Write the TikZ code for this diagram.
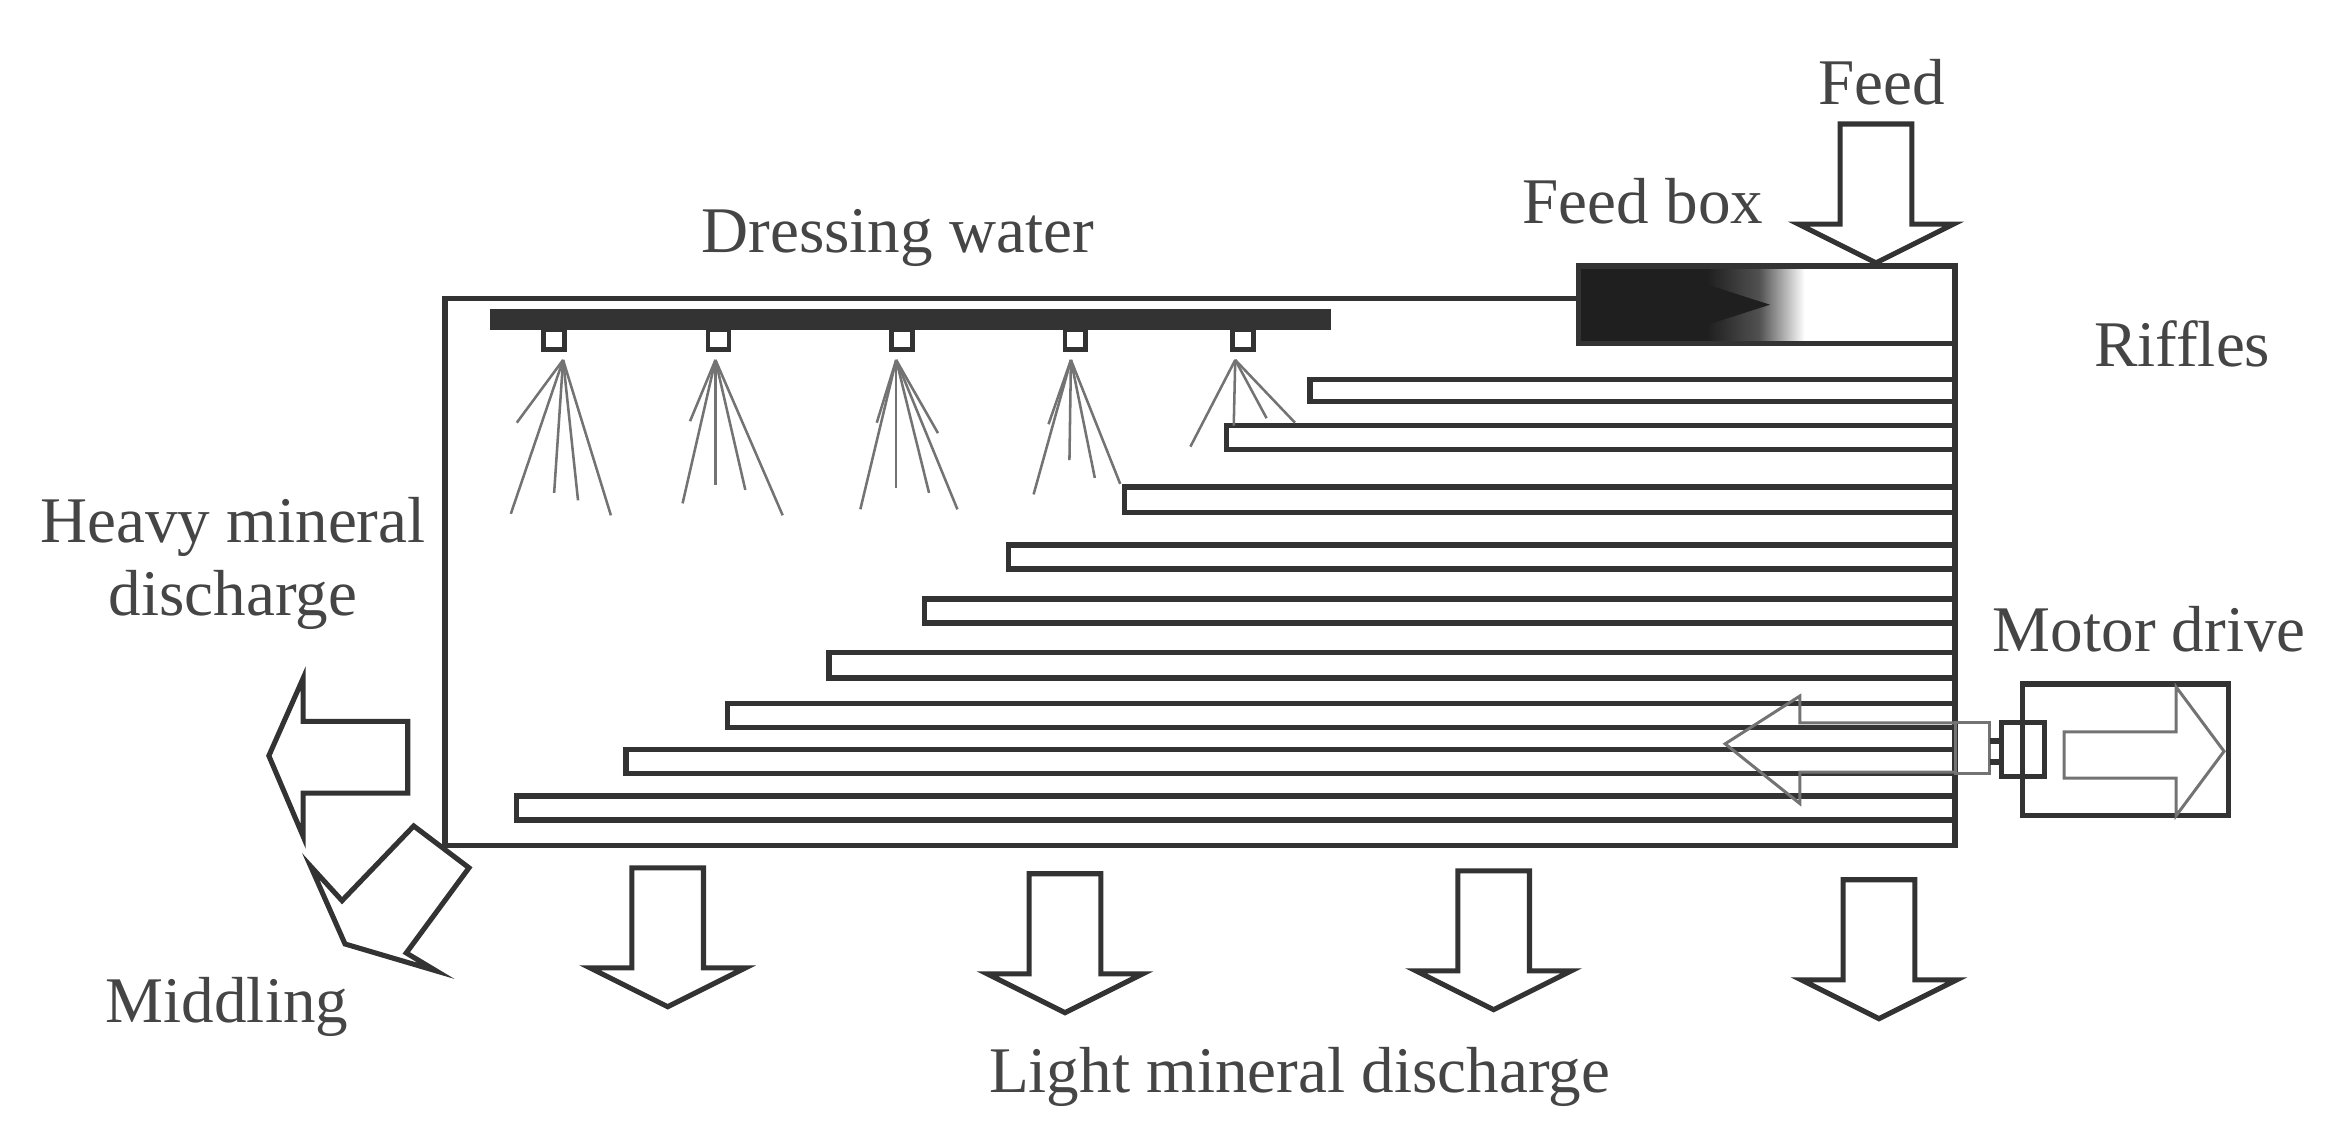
\documentclass[tikz,border=0pt]{standalone}
\usepackage{fontspec}
\setmainfont{Liberation Serif}
\definecolor{linecol}{gray}{0.2}
\definecolor{thincol}{gray}{0.45}
\definecolor{textcol}{gray}{0.27}
\pgfdeclarehorizontalshading{feedshade}{100bp}{color(0bp)=(black!88); color(25bp)=(black!88); color(42bp)=(black!88); color(49bp)=(black!68); color(55bp)=(white); color(100bp)=(white)}
\tikzset{
  lbl/.style={text=textcol, font=\fontsize{43.6}{49}\selectfont, inner sep=0pt, align=center},
  wall/.style={draw=linecol, line width=3.6pt, line join=miter},
  riffle/.style={draw=linecol, line width=3.6pt},
  blockarrow/.style={draw=linecol, line width=3.4pt, fill=white, miter limit=20},
  spray/.style={draw=thincol, line width=1.7pt},
  thinbox/.style={draw=thincol, line width=2pt},
}
\begin{document}
\begin{tikzpicture}[x=1pt, y=-1pt]
  \useasboundingbox (0, 0) rectangle (1568, 762.6);
  % casing
  \draw[wall] (1057, 200) -- (298, 200) -- (298, 566) -- (1309, 566) -- (1309, 230);
  % riffles
  \foreach \lx/\ty/\by in {877/254/269, 821/285/301, 753/326/343, 675/365/381, 619/401/417,
                           555/437/454, 487/471/487, 419/502/518, 346/533/549}
    \draw[riffle] (1309, \ty) -- (\lx, \ty) -- (\lx, \by) -- (1309, \by);
  % feed box
  \shade[shading=feedshade] (1057, 178) rectangle (1309, 230);
  \fill[black!88] (1135, 188) -- (1185, 204) -- (1135, 220) -- cycle;
  \draw[wall] (1057, 178) rectangle (1309, 230);
  % water pipe
  \fill[linecol] (328, 207) rectangle (891, 221);
  \foreach \nx in {371, 481, 604, 720, 832}
    \draw[draw=linecol, line width=3.2pt] (\nx-7, 221) rectangle (\nx+7, 234);
  % sprays
  \foreach \ax/\ends in {377/{346/283, 342/344, 371/330, 387/335, 409/345},
                         479/{462/282, 457/337, 479/325, 499/328, 524/345},
                         600/{587/283, 576/341, 600/327, 622/330, 641/341, 628/290},
                         717/{702/284, 692/331, 716/308, 733/320, 750/324},
                         827/{797/299, 826/285, 848/280, 867/283}}
    \foreach \ex/\ey in \ends
      \draw[spray] (\ax, 241) -- (\ex, \ey);
  % discharge arrows
  \foreach \cx/\ty in {447/581, 713/585, 1000/583, 1258/589, 1256/83}
    \draw[blockarrow] (\cx-24, \ty) -- (\cx+24, \ty) -- (\cx+24, \ty+67) -- (\cx+52, \ty+67)
                      -- (\cx, \ty+93) -- (\cx-52, \ty+67) -- (\cx-24, \ty+67) -- cycle;
  \draw[blockarrow] (273, 483) -- (203, 483) -- (203, 454) -- (180, 506) -- (203, 560) -- (203, 531) -- (273, 531) -- cycle;
  \draw[blockarrow] (277, 553) -- (314, 581) -- (272, 638) -- (292, 650) -- (231, 632) -- (208, 580) -- (229, 603) -- cycle;
  % motor
  \draw[wall] (1354, 458) rectangle (1492, 546);
  \draw[thinbox] (1382, 490) -- (1457, 490) -- (1457, 460) -- (1489, 503) -- (1457, 546) -- (1457, 521) -- (1382, 521) -- cycle;
  \draw[thinbox] (1309, 484) -- (1205, 484) -- (1205, 466) -- (1155, 498) -- (1205, 538) -- (1205, 517) -- (1309, 517);
  \draw[thinbox] (1309, 484) rectangle (1332, 518);
  \draw[line width=4pt, draw=linecol] (1332, 496) -- (1340, 496) (1332, 510) -- (1340, 510);
  \draw[draw=linecol, line width=3.4pt] (1340, 484) rectangle (1369, 520);
  % labels
  \node[lbl] (feed) at (1260, 55) {Feed};
  \node[lbl] (feedbox) at (1100, 135) {Feed box};
  \node[lbl] (water) at (601, 159) {Dressing water};
  \node[lbl] (riffles) at (1461, 230) {Riffles};
  \node[lbl] (heavy) at (156, 377) {Heavy mineral\\discharge};
  \node[lbl] (motor) at (1439, 421) {Motor drive};
  \node[lbl] (middling) at (152, 674) {Middling};
  \node[lbl] (light) at (870, 721) {Light mineral discharge};
\end{tikzpicture}
\end{document}
